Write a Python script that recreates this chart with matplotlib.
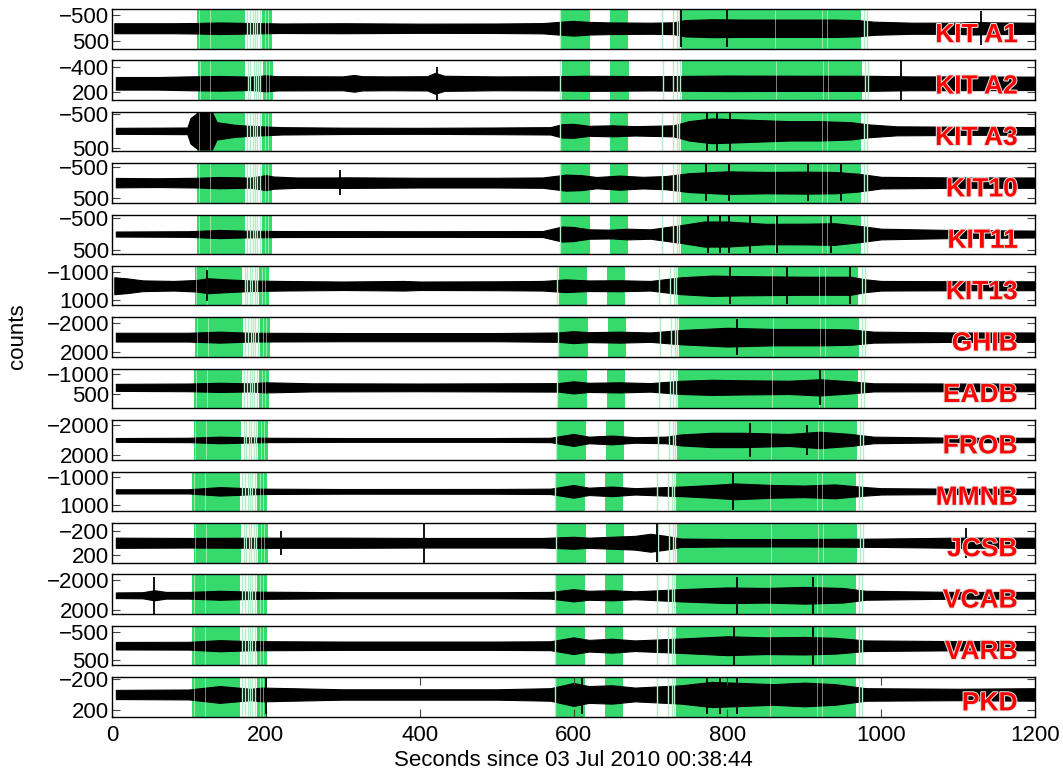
import numpy as np
import matplotlib.pyplot as plt
import matplotlib.patheffects as pe

plt.rcParams['font.family'] = ['Liberation Sans', 'DejaVu Sans']

# stations, top to bottom
stations = ['KIT A1', 'KIT A2', 'KIT A3', 'KIT10', 'KIT11', 'KIT13', 'GHIB',
            'EADB', 'FROB', 'MMNB', 'JCSB', 'VCAB', 'VARB', 'PKD']
yticks = [(-500, 500), (-400, 200), (-500, 500), (-500, 500), (-500, 500),
          (-1000, 1000), (-2000, 2000), (-1000, 500), (-2000, 2000),
          (-1000, 1000), (-200, 200), (-2000, 2000), (-500, 500), (-200, 200)]
# (top, bottom) limits, axis is reversed
ylims = [(-731, 770), (-546, 395), (-570, 613), (-620, 640), (-620, 640),
         (-1400, 1400), (-2700, 2700), (-1375, 1550), (-2700, 2700),
         (-1400, 1400), (-330, 330), (-2800, 2500), (-717, 705), (-226, 291)]

# trace envelopes: (seconds, half amplitude in counts)
kita1 = [(3,190),(40,190),(80,190),(110,200),(140,220),(180,200),(220,180),(300,190),(400,175),(500,180),
         (560,195),(585,250),(600,280),(620,240),(650,220),(700,210),(730,225),(745,310),(780,340),(820,330),
         (880,330),(940,330),(970,310),(990,250),(1040,210),(1100,215),(1120,240),(1140,225),(1200,210)]
kita2 = [(5,150),(60,150),(100,165),(140,175),(180,160),(200,190),(215,170),(300,165),(315,200),(325,170),
         (360,165),(410,170),(420,250),(432,180),(500,165),(580,170),(620,180),(700,170),(800,185),(900,180),
         (980,180),(1040,165),(1200,160)]
kita3 = [(5,90),(60,95),(98,100),(102,380),(112,560),(130,560),(136,260),(160,180),(180,150),(220,110),
         (300,95),(400,90),(500,100),(570,110),(585,200),(600,210),(620,150),(650,165),(680,140),(730,165),
         (750,290),(780,370),(820,340),(880,290),(920,290),(960,260),(985,190),(1020,135),(1200,110)]
kit10 = [(5,150),(60,140),(110,155),(140,180),(180,160),(200,240),(210,195),(240,165),(290,165),(302,170),
         (400,155),(500,155),(560,165),(590,255),(610,240),(630,180),(660,225),(690,185),(720,210),(750,300),
         (800,360),(850,340),(900,350),(940,340),(970,285),(1000,185),(1100,165),(1200,165)]
kit11 = [(5,80),(100,90),(140,130),(170,110),(220,95),(400,90),(560,95),(585,240),(600,225),(620,150),
         (650,140),(670,170),(700,150),(740,285),(770,400),(800,400),(850,325),(900,330),(940,345),(975,250),
         (1000,170),(1100,125),(1200,110)]
kit13 = [(3,600),(20,520),(40,380),(80,340),(110,410),(125,530),(150,450),(180,375),(220,340),(300,300),
         (380,340),(400,300),(500,315),(560,340),(590,450),(620,375),(660,390),(700,340),(740,600),(780,720),
         (820,680),(900,640),(960,640),(980,450),(1000,340),(1100,320),(1200,315)]
ghib = [(5,600),(100,600),(140,750),(180,600),(300,560),(500,560),(580,640),(600,820),(620,680),(660,750),
        (700,640),(740,980),(800,1280),(860,1120),(920,1120),(960,1050),(990,750),(1100,640),(1200,640)]
eadb = [(5,260),(100,285),(140,340),(180,300),(200,375),(260,300),(400,285),(500,300),(580,315),(600,450),
        (620,340),(660,375),(700,315),(740,490),(780,560),(820,525),(880,490),(920,600),(960,450),(990,300),
        (1100,285),(1200,285)]
frob = [(5,260),(100,300),(140,450),(170,375),(200,300),(300,260),(500,260),(570,300),(600,820),(620,450),
        (650,600),(680,375),(720,450),(740,750),(780,980),(820,980),(880,820),(920,1120),(960,820),(990,450),
        (1100,300),(1200,300)]
mmnb = [(5,150),(100,150),(140,300),(160,260),(190,190),(300,165),(500,170),(570,190),(600,450),(620,260),
        (650,340),(680,225),(740,340),(780,450),(810,560),(860,450),(900,410),(940,490),(980,300),(1000,225),
        (1100,190),(1200,190)]
jcsb = [(5,85),(100,80),(200,85),(300,85),(400,80),(500,80),(560,80),(600,100),(620,85),(680,115),
        (700,150),(720,115),(740,70),(800,62),(900,62),(1000,70),(1100,85),(1200,85)]
vcab = [(5,380),(40,410),(55,680),(70,450),(100,450),(140,600),(180,490),(300,410),(500,410),(570,450),
        (600,820),(620,600),(650,680),(680,525),(740,820),(800,1050),(850,980),(900,1120),(950,980),(980,600),
        (1100,450),(1200,450)]
varb = [(5,135),(100,140),(140,200),(180,165),(300,150),(500,150),(570,160),(600,300),(620,210),(650,250),
        (680,190),(740,260),(800,340),(850,300),(900,315),(940,285),(980,190),(1100,165),(1200,165)]
pkd = [(5,60),(100,65),(140,110),(180,75),(195,90),(300,68),(500,68),(570,82),(600,150),(620,110),
       (650,120),(680,90),(740,120),(780,165),(820,150),(860,135),(900,155),(940,135),(980,82),(1100,75),
       (1200,82)]
envelopes = [kita1, kita2, kita3, kit10, kit11, kit13, ghib, eadb, frob, mmnb, jcsb, vcab, varb, pkd]

# large single spikes: (seconds, half amplitude)
spikes = [[(740,700),(799,720),(1130,650)],
          [(422,400),(1026,550)],
          [(774,600),(787,600),(803,600)],
          [(296,400),(772,600),(802,600),(905,580),(948,600)],
          [(775,620),(790,620),(802,620),(830,600),(865,600),(935,620)],
          [(123,1100),(804,1300),(878,1300),(960,1300)],
          [(812,2500)],
          [(920,1300)],
          [(829,2300),(903,2100)],
          [(808,1300)],
          [(220,200),(405,330),(709,320),(1110,250)],
          [(55,2500),(812,2500),(912,2500)],
          [(809,700),(911,700)],
          [(200,250),(611,250),(773,250),(790,250),(812,250)]]

# detection windows (seconds, for KIT A1) and the shift at each station
windows = [(111,172.5),(195,208),(584,621),(647,671),(740,974)]
pale_lines = [176,179,183,186,189,192,582,715,729,734,737,978,982]
white_lines = [113,127,199,203,862,923,930]
shifts = [0, 1, 0, 0, 0, -3.5, -2.5, -4, -5, -6.5, -5, -6.5, -6.5, -6.5]

green = '#36d96b'
fig = plt.figure(figsize=(10.63, 7.73), dpi=100)
W, H = 1063.0, 773.0
for i, name in enumerate(stations):
    top = 9 + i * 51.4
    ax = fig.add_axes([112 / W, 1 - (top + 39.5) / H, 923 / W, 39.5 / H])
    d = shifts[i]
    for a, b in windows:
        ax.axvspan(a + d, b + d, color=green, lw=0)
    for x in pale_lines:
        ax.axvline(x + d, color='#b4eec6', lw=1)
    for x in white_lines:
        ax.axvline(x + d, color='white', lw=0.7, alpha=0.5)

    t = np.array([p[0] for p in envelopes[i]], float)
    amp = np.array([p[1] for p in envelopes[i]], float)
    ax.fill_between(t, -amp, amp, color='k', lw=0.8)
    st = [p[0] for p in spikes[i]]
    sa = np.array([p[1] for p in spikes[i]], float)
    ax.vlines(st, -sa, sa, color='k', lw=1.3)

    ax.set_xlim(0, 1200)
    ax.set_ylim(ylims[i][1], ylims[i][0])
    ax.set_yticks(yticks[i])
    ax.set_yticklabels(['\u2212%d' % abs(v) if v < 0 else '%d' % v for v in yticks[i]])
    ax.tick_params(axis='y', direction='in', left=True, right=True, length=5.5,
                   color='#444444', labelsize=16, pad=2)
    if i < len(stations) - 1:
        ax.set_xticks([])
    else:
        ax.set_xticks([0, 200, 400, 600, 800, 1000, 1200])
        ax.tick_params(axis='x', direction='in', top=True, bottom=True, length=6,
                       color='#444444', labelsize=16, pad=6)
    for s in ax.spines.values():
        s.set_linewidth(1.0)
    ax.text(0.981, 0.16, name, transform=ax.transAxes, ha='right', va='baseline',
            color='red', fontsize=19, fontweight='bold',
            path_effects=[pe.withStroke(linewidth=1.5, foreground='#e0e0e0')])

fig.text(573 / W, 1 - 760 / H, 'Seconds since 03 Jul 2010 00:38:44', ha='center', va='center', fontsize=16)
fig.text(18 / W, 1 - 336 / H, 'counts', ha='center', va='center', rotation=90, fontsize=16)

fig.savefig('out.png', dpi=100)
